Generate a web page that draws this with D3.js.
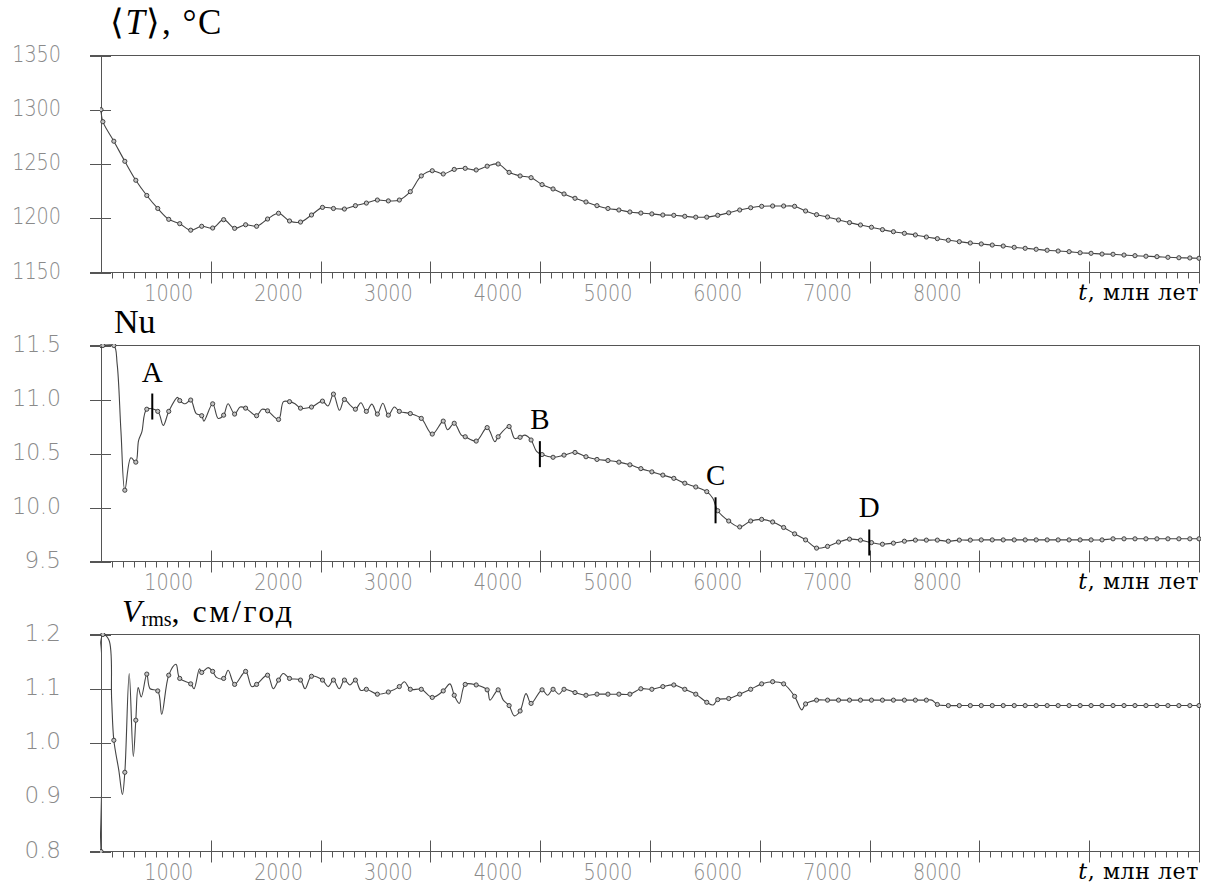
<!DOCTYPE html>
<html><head><meta charset="utf-8">
<script src="https://cdn.jsdelivr.net/npm/d3@7"></script>
<style>
body{margin:0;background:#fff;}
svg{display:block;}
</style></head><body>
<svg id="chart" width="1209" height="885"></svg>
<script>
// ---------- data ----------
// marker times (Myr): initial point, then every 100 Myr, then the right edge
const markTimes = [383, 400].concat(d3.range(500, 10400, 100), [10383]);

const tempMarks = [1300,1289,1271,1252.5,1235,1221,1209,1199,1195,1189,1192.6,1191,1198.7,1190.7,1194,1192.6,1199.3,1204.6,1197.5,1196.5,1203,1210,1209,1208.5,1211.6,1214,1216.8,1216,1216.8,1224.5,1239,1243.8,1240.8,1245,1246,1244.5,1248,1250,1242.3,1239,1237.4,1231,1227,1222.4,1218.4,1215,1211.6,1209,1207.6,1205.8,1204.8,1204,1203,1202.7,1201.8,1201,1201,1202.7,1205,1207.6,1209.7,1211,1211.3,1211.3,1211,1206.7,1203.3,1201.2,1198.4,1196,1193.8,1191.7,1189.5,1187.6,1186.1,1184.6,1182.7,1181.2,1179.7,1178.4,1177.2,1176.3,1175.3,1174.4,1173.2,1172.3,1171.4,1170.5,1169.8,1169.2,1168.2,1167.7,1167,1166.8,1166.1,1165.5,1165,1164.6,1164,1163.6,1163.4,1163.1];
const tempExtraT = [];
const tempExtraV = [];

const nuMarks = [11.5,11.5,11.5,10.16,10.42,10.91,10.89,10.89,10.99,10.995,10.85,10.96,10.855,10.865,10.92,10.85,10.895,10.815,10.98,10.92,10.93,10.985,11.05,11.0,10.91,10.89,10.865,10.855,10.89,10.87,10.825,10.68,10.8,10.78,10.655,10.615,10.74,10.655,10.75,10.65,10.625,10.49,10.465,10.485,10.51,10.47,10.445,10.435,10.42,10.395,10.36,10.33,10.3,10.27,10.225,10.19,10.147,9.97,9.875,9.82,9.875,9.89,9.866,9.815,9.756,9.7,9.624,9.64,9.68,9.707,9.698,9.675,9.66,9.67,9.688,9.698,9.698,9.698,9.688,9.698,9.698,9.7,9.7,9.7,9.7,9.7,9.7,9.7,9.7,9.7,9.7,9.7,9.7,9.71,9.71,9.71,9.71,9.71,9.71,9.71,9.71,9.71];
const nuExtraT = [530,565,655,725,755,950,1080,1150,1250,1320,1450,1540,1650,1850,2045,2150,2450,2555,2650,2750,2850,2950,3055,3540,3665,3970,4150,4245,4350,5955];
const nuExtraV = [11.33,10.7,10.46,10.62,10.7,10.76,11.02,10.96,10.87,10.8,10.825,10.96,10.93,10.91,10.98,10.96,10.94,10.9,10.95,10.97,10.957,10.965,10.93,10.72,10.67,10.61,10.64,10.67,10.52,10.085];

const vrmsMarks = [0.8,1.2,1.005,0.946,1.042,1.127,1.096,1.125,1.119,1.109,1.13,1.132,1.119,1.108,1.132,1.108,1.125,1.116,1.119,1.116,1.123,1.116,1.116,1.116,1.116,1.099,1.09,1.094,1.104,1.099,1.099,1.084,1.096,1.088,1.108,1.107,1.098,1.098,1.069,1.059,1.073,1.098,1.099,1.099,1.093,1.088,1.09,1.09,1.09,1.09,1.1,1.099,1.104,1.107,1.099,1.09,1.075,1.08,1.082,1.09,1.099,1.109,1.113,1.109,1.086,1.072,1.079,1.079,1.079,1.079,1.079,1.079,1.079,1.079,1.079,1.079,1.079,1.071,1.069,1.069,1.069,1.069,1.069,1.069,1.069,1.069,1.069,1.069,1.069,1.069,1.069,1.069,1.069,1.069,1.069,1.069,1.069,1.069,1.069,1.069,1.069,1.069];
const vrmsExtraT = [455,480,545,578,640,677,722,750,830,936,1066,1230,1280,1359,1435,1541,1755,1952,2043,2241,2453,2553,2650,2749,3147,3561,3646,3926,4047,4147,4254,4451,4554,5958,6765,7950];
const vrmsExtraV = [1.19,1.08,0.95,0.905,1.128,0.975,1.102,1.085,1.1,1.053,1.145,1.1,1.137,1.139,1.121,1.134,1.104,1.1,1.128,1.1,1.104,1.1,1.107,1.097,1.113,1.109,1.073,1.079,1.079,1.05,1.091,1.088,1.09,1.07,1.061,1.079];

// axes
const tempTicks = [1150, 1200, 1250, 1300, 1350];
const nuTicks = [9.5, 10.0, 10.5, 11.0, 11.5];
const vrmsTicks = [0.8, 0.9, 1.0, 1.1, 1.2];
const xLabelValues = [1000, 2000, 3000, 4000, 5000, 6000, 7000, 8000];
const xMajorTicks = [1383, 2383, 3383, 4383, 5383, 6383, 7383, 8383, 9383, 10383];
const xAxisTitle = "млн лет";

// events on the Nu curve
const eventLabels = ["A", "B", "C", "D"];
const eventTimes = [850, 4380, 5980, 7380];
const eventValues = [10.935, 10.494, 9.974, 9.676];

// ---------- drawing ----------
const svg = d3.select("#chart");
const x = d3.scaleLinear().domain([383, 10383]).range([101, 1199]);
const X = t => Math.round(x(t)) + 0.5;
const LEFT = 90, RIGHT = 1199.5, AXX = 101.5;
const AX_COL = "#555", LAB_COL = "#8a8a8a";

const panels = [
  {top: 55.5, bottom: 272.5, domain: [1150, 1350], ticks: tempTicks, fmt: d3.format("d"),
   marks: tempMarks, exT: tempExtraT, exV: tempExtraV},
  {top: 345.5, bottom: 561.5, domain: [9.5, 11.5], ticks: nuTicks, fmt: d3.format(".1f"),
   marks: nuMarks, exT: nuExtraT, exV: nuExtraV},
  {top: 634.5, bottom: 851.5, domain: [0.8, 1.2], ticks: vrmsTicks, fmt: d3.format(".1f"),
   marks: vrmsMarks, exT: vrmsExtraT, exV: vrmsExtraV}
];

function numText(sel, str) {
  sel.text(str)
    .attr("font-family", "'DejaVu Sans', sans-serif")
    .attr("font-weight", 200)
    .attr("font-size", 23)
    .attr("fill", LAB_COL)
    .attr("textLength", str.length * 12.2)
    .attr("lengthAdjust", "spacingAndGlyphs");
}

const defs = svg.append("defs");

panels.forEach((p, pi) => {
  const y = d3.scaleLinear().domain(p.domain).range([p.bottom, p.top]);
  const g = svg.append("g");
  defs.append("clipPath").attr("id", "clip" + pi)
    .append("rect").attr("x", 100).attr("y", p.top - 1.5)
    .attr("width", 1101).attr("height", p.bottom - p.top + 3);

  // frame
  g.append("line").attr("x1", LEFT).attr("x2", RIGHT).attr("y1", p.top).attr("y2", p.top).attr("stroke", AX_COL);
  g.append("line").attr("x1", LEFT).attr("x2", RIGHT).attr("y1", p.bottom).attr("y2", p.bottom).attr("stroke", AX_COL);
  g.append("line").attr("x1", AXX).attr("x2", AXX).attr("y1", p.top).attr("y2", p.bottom).attr("stroke", AX_COL);
  g.append("line").attr("x1", RIGHT).attr("x2", RIGHT).attr("y1", p.top).attr("y2", p.bottom).attr("stroke", AX_COL);

  // y ticks + labels
  p.ticks.forEach(v => {
    const yy = Math.round(y(v)) + 0.5;
    g.append("line").attr("x1", LEFT).attr("x2", 111).attr("y1", yy).attr("y2", yy).attr("stroke", AX_COL);
    g.append("text").attr("x", 61).attr("y", yy + 5).attr("text-anchor", "end").call(numText, p.fmt(v));
  });

  // x minor ticks
  d3.range(483, 10383, 100).forEach(t => {
    if (xMajorTicks.includes(t)) return;
    g.append("line").attr("x1", X(t)).attr("x2", X(t)).attr("y1", p.bottom).attr("y2", p.bottom + 6).attr("stroke", AX_COL);
  });
  xMajorTicks.forEach(t => {
    const xx = Math.min(X(t), RIGHT);
    g.append("line").attr("x1", xx).attr("x2", xx).attr("y1", p.bottom - 11).attr("y2", p.bottom + 11).attr("stroke", AX_COL);
  });
  xLabelValues.forEach(t => {
    g.append("text").attr("x", x(t)).attr("y", p.bottom + 28).attr("text-anchor", "middle").call(numText, String(t));
  });
  const at = g.append("text").attr("x", 1199).attr("y", p.bottom + 27.5).attr("text-anchor", "end")
    .attr("font-family", "'DejaVu Serif', serif").attr("font-size", 22).attr("letter-spacing", 0.6).attr("fill", "#000");
  at.append("tspan").attr("font-style", "italic").text("t");
  at.append("tspan").text(", " + xAxisTitle);

  // data
  const pts = markTimes.map((t, i) => ({t, v: p.marks[i], m: true}));
  p.exT.forEach((t, i) => pts.push({t, v: p.exV[i], m: false}));
  pts.sort((a, b) => a.t - b.t);
  const line = d3.line().x(d => x(d.t)).y(d => y(d.v)).curve(d3.curveCatmullRom.alpha(0.5));
  const dg = g.append("g").attr("clip-path", `url(#clip${pi})`);
  dg.append("path").datum(pts).attr("d", line).attr("fill", "none")
    .attr("stroke", "#444").attr("stroke-width", 1.1);
  dg.selectAll("circle").data(pts.filter(d => d.m)).join("circle")
    .attr("cx", d => x(d.t)).attr("cy", d => y(d.v)).attr("r", 2.1)
    .attr("fill", "#c4c4c4").attr("stroke", "#333").attr("stroke-width", 0.9);

  if (pi === 1) {
    eventLabels.forEach((lab, i) => {
      const ex = x(eventTimes[i]), ey = y(eventValues[i]);
      g.append("line").attr("x1", ex).attr("x2", ex).attr("y1", ey - 13).attr("y2", ey + 13)
        .attr("stroke", "#000").attr("stroke-width", 2);
      g.append("text").attr("x", ex).attr("y", ey - 25).attr("text-anchor", "middle")
        .attr("font-family", "'Liberation Serif', serif").attr("font-size", 29).attr("fill", "#000").text(lab);
    });
  }
});

// titles
const SERIF = "'Liberation Serif', serif";
const t1 = svg.append("text").attr("x", 110).attr("y", 34).attr("font-family", SERIF).attr("font-size", 35)
  .attr("letter-spacing", 1.5).attr("fill", "#000");
t1.append("tspan").text("\u27E8");
t1.append("tspan").attr("font-style", "italic").text("T");
t1.append("tspan").text("\u27E9, \u00B0C");

svg.append("text").attr("x", 114).attr("y", 333).attr("font-family", SERIF).attr("font-size", 34).attr("fill", "#000").text("Nu");

const t3 = svg.append("text").attr("x", 122).attr("y", 622).attr("font-family", SERIF).attr("font-size", 32).attr("fill", "#000");
t3.append("tspan").attr("font-style", "italic").text("V");
t3.append("tspan").attr("font-size", 20).attr("dy", 4).text("rms");
t3.append("tspan").attr("dy", -4).attr("letter-spacing", 2.5).text(", см/год");
</script>
</body></html>
